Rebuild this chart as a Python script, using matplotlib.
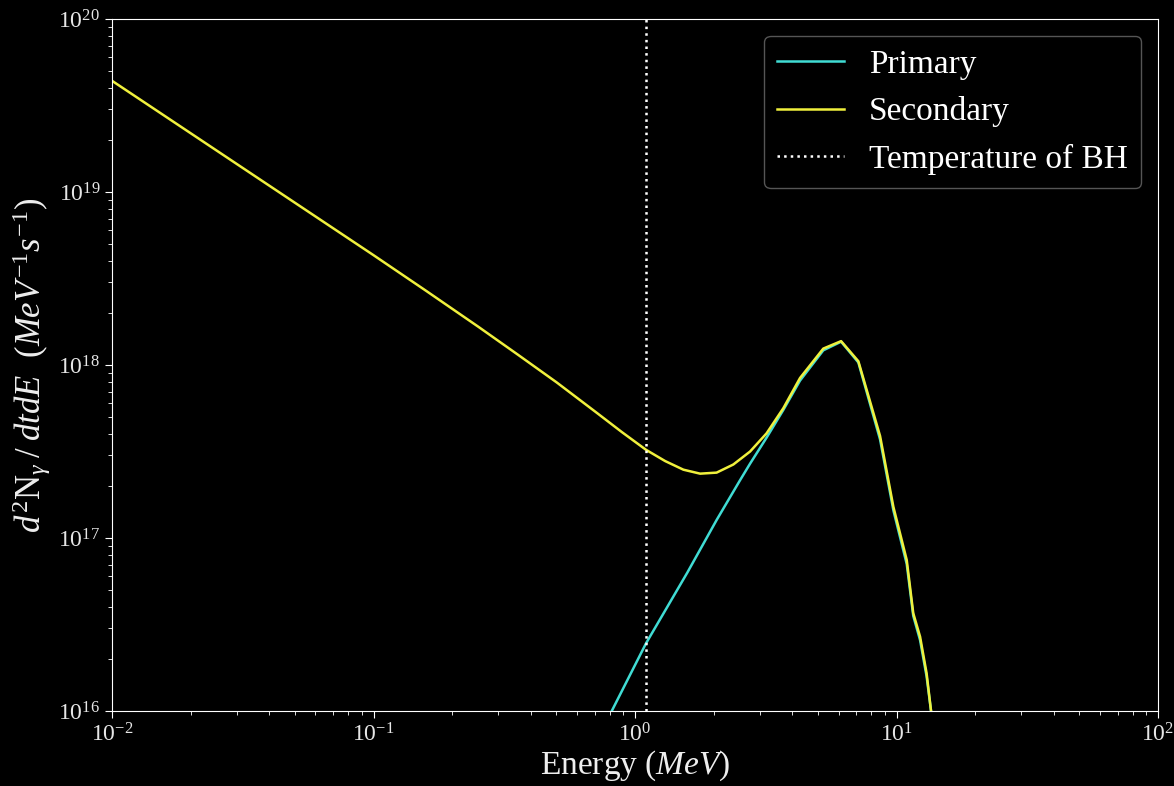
import numpy as np
import matplotlib
matplotlib.use("Agg")
import matplotlib.pyplot as plt

plt.rcParams['font.family'] = ['Liberation Serif', 'DejaVu Serif']
plt.rcParams['mathtext.fontset'] = 'custom'
plt.rcParams['mathtext.rm'] = 'Liberation Serif'
plt.rcParams['mathtext.it'] = 'Liberation Serif:italic'
plt.rcParams['mathtext.bf'] = 'Liberation Serif:bold'

# values (log10 of energy in MeV, log10 of rate)
primary_logE = [-0.15, -0.089, 0.042, 0.20, 0.312, 0.402, 0.44, 0.503, 0.567,
                0.631, 0.72, 0.788, 0.854, 0.937, 0.988, 1.039, 1.064, 1.09,
                1.115, 1.132, 1.16]
primary_logN = [15.83, 16.0, 16.391, 16.80, 17.104, 17.335, 17.43, 17.58, 17.74,
                17.91, 18.085, 18.135, 18.015, 17.57, 17.16, 16.85, 16.55, 16.41,
                16.20, 16.0, 15.7]

secondary_logE = [-2.0, -1.5, -1.0, -0.8, -0.6, -0.45, -0.3, -0.15, -0.05, 0.042,
                  0.115, 0.185, 0.249, 0.312, 0.376, 0.44, 0.503, 0.567,
                  0.631, 0.72, 0.788, 0.854, 0.937, 0.988, 1.039, 1.064, 1.09,
                  1.115, 1.132, 1.16]
secondary_logN = [19.643, 19.139, 18.635, 18.43, 18.222, 18.062, 17.90, 17.728,
                  17.612, 17.51, 17.445, 17.395, 17.372, 17.378, 17.425, 17.50,
                  17.605, 17.75, 17.925, 18.095, 18.138, 18.022, 17.59, 17.18,
                  16.873, 16.565, 16.43, 16.218, 16.0, 15.7]

T_bh = 1.1  # MeV

E_p = 10 ** np.array(primary_logE)
N_p = 10 ** np.array(primary_logN)
E_s = 10 ** np.array(secondary_logE)
N_s = 10 ** np.array(secondary_logN)

fig = plt.figure(figsize=(11.74, 7.86), dpi=100, facecolor='black')
ax = fig.add_axes([0.0954, 0.0954, 0.891, 0.8804])
ax.set_facecolor('black')

ax.plot(E_p, N_p, color='#40DCD4', lw=1.8, label='Primary')
ax.plot(E_s, N_s, color='#F0F03C', lw=1.8, label='Secondary')
ax.axvline(T_bh, color='white', ls=':', lw=1.8, label='Temperature of BH')

ax.set_xscale('log')
ax.set_yscale('log')
ax.set_xlim(1e-2, 1e2)
ax.set_ylim(1e16, 1e20)

ax.set_xlabel('Energy ($MeV$)', fontsize=24, color='#eeeeee', labelpad=2)
ax.set_ylabel(r'$d^2\mathrm{N}_\gamma\;/\;dtdE$  $(MeV^{-1}s^{-1})$',
              fontsize=25, color='#eeeeee', labelpad=4)

for s in ax.spines.values():
    s.set_color('white')
ax.tick_params(which='both', colors='white', labelcolor='#e6e6e6', labelsize=17)
ax.tick_params(which='major', length=5)
ax.tick_params(which='minor', length=3)

leg = ax.legend(loc='upper right', fontsize=24, facecolor='black',
                edgecolor='#555555', framealpha=1.0, handlelength=2.0,
                handletextpad=0.75, borderpad=0.4, labelspacing=0.5)
for t in leg.get_texts():
    t.set_color('white')

fig.savefig('out.png', dpi=100, facecolor='black')
